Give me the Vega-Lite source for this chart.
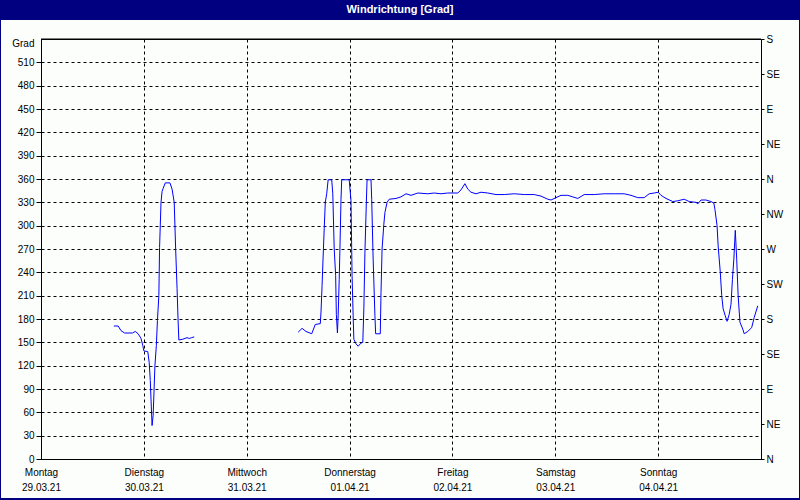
{
  "$schema": "https://vega.github.io/schema/vega-lite/v6.json",
  "padding": 0,
  "background": "#fcfefc",
  "spacing": 0,
  "config": {
    "view": {"stroke": null},
    "axis": {
      "labelFont": "Liberation Sans, sans-serif",
      "labelFontSize": 10,
      "labelColor": "#000000",
      "domainColor": "#000000",
      "tickColor": "#000000",
      "gridColor": "#000000",
      "gridDash": [3, 3],
      "gridOpacity": 1,
      "titleFont": "Liberation Sans, sans-serif",
      "titleColor": "#000000"
    }
  },
  "vconcat": [
    {
      "width": 800,
      "height": 20,
      "data": {"values": [{"title": "Windrichtung [Grad]"}]},
      "mark": {
        "type": "text",
        "color": "#ffffff",
        "font": "Liberation Sans, sans-serif",
        "fontSize": 11,
        "fontWeight": "bold"
      },
      "encoding": {"text": {"field": "title", "type": "nominal"}},
      "view": {"fill": "#000080", "stroke": null}
    },
    {
      "spacing": 0,
      "hconcat": [
        {
          "width": 1,
          "height": 478,
          "data": {"values": [{}]},
          "mark": {"type": "rect", "color": "#000080"},
          "view": {"fill": "#000080", "stroke": null}
        },
        {
          "spacing": 12,
          "vconcat": [
            {
              "width": 758,
              "height": 1,
              "data": {"values": [{}]},
              "mark": {"type": "rect", "opacity": 0},
              "view": {"stroke": null}
            },
            {
              "width": 720,
              "height": 420,
              "view": {"stroke": "#000000", "strokeWidth": 1},
              "resolve": {"axis": {"y": "independent"}},
              "layer": [
                {
                  "data": {
                    "values": [
                      {"t": "2021-03-29T17:00:00Z", "grad": 171, "seg": 1},
                      {"t": "2021-03-29T18:00:00Z", "grad": 171, "seg": 1},
                      {"t": "2021-03-29T18:40:00Z", "grad": 165, "seg": 1},
                      {"t": "2021-03-29T19:30:00Z", "grad": 162, "seg": 1},
                      {"t": "2021-03-29T21:20:00Z", "grad": 162, "seg": 1},
                      {"t": "2021-03-29T22:00:00Z", "grad": 164, "seg": 1},
                      {"t": "2021-03-29T22:40:00Z", "grad": 161, "seg": 1},
                      {"t": "2021-03-29T23:20:00Z", "grad": 155, "seg": 1},
                      {"t": "2021-03-29T23:45:00Z", "grad": 146, "seg": 1},
                      {"t": "2021-03-30T00:00:00Z", "grad": 139, "seg": 1},
                      {"t": "2021-03-30T00:55:00Z", "grad": 138, "seg": 1},
                      {"t": "2021-03-30T01:15:00Z", "grad": 124, "seg": 1},
                      {"t": "2021-03-30T01:30:00Z", "grad": 101, "seg": 1},
                      {"t": "2021-03-30T01:40:00Z", "grad": 77, "seg": 1},
                      {"t": "2021-03-30T01:55:00Z", "grad": 43, "seg": 1},
                      {"t": "2021-03-30T02:10:00Z", "grad": 56, "seg": 1},
                      {"t": "2021-03-30T02:35:00Z", "grad": 120, "seg": 1},
                      {"t": "2021-03-30T02:55:00Z", "grad": 146, "seg": 1},
                      {"t": "2021-03-30T03:10:00Z", "grad": 178, "seg": 1},
                      {"t": "2021-03-30T03:30:00Z", "grad": 210, "seg": 1},
                      {"t": "2021-03-30T03:40:00Z", "grad": 272, "seg": 1},
                      {"t": "2021-03-30T04:00:00Z", "grad": 330, "seg": 1},
                      {"t": "2021-03-30T04:15:00Z", "grad": 344, "seg": 1},
                      {"t": "2021-03-30T04:30:00Z", "grad": 348, "seg": 1},
                      {"t": "2021-03-30T05:00:00Z", "grad": 355, "seg": 1},
                      {"t": "2021-03-30T06:05:00Z", "grad": 355, "seg": 1},
                      {"t": "2021-03-30T06:35:00Z", "grad": 347, "seg": 1},
                      {"t": "2021-03-30T07:05:00Z", "grad": 330, "seg": 1},
                      {"t": "2021-03-30T07:25:00Z", "grad": 270, "seg": 1},
                      {"t": "2021-03-30T07:45:00Z", "grad": 219, "seg": 1},
                      {"t": "2021-03-30T08:00:00Z", "grad": 176, "seg": 1},
                      {"t": "2021-03-30T08:10:00Z", "grad": 153, "seg": 1},
                      {"t": "2021-03-30T09:05:00Z", "grad": 154, "seg": 1},
                      {"t": "2021-03-30T10:05:00Z", "grad": 156, "seg": 1},
                      {"t": "2021-03-30T10:35:00Z", "grad": 155, "seg": 1},
                      {"t": "2021-03-30T11:10:00Z", "grad": 156, "seg": 1},
                      {"t": "2021-03-30T11:45:00Z", "grad": 157, "seg": 1},
                      {"t": "2021-03-31T12:00:00Z", "grad": 163, "seg": 2},
                      {"t": "2021-03-31T12:55:00Z", "grad": 168, "seg": 2},
                      {"t": "2021-03-31T13:50:00Z", "grad": 164, "seg": 2},
                      {"t": "2021-03-31T15:10:00Z", "grad": 161, "seg": 2},
                      {"t": "2021-03-31T16:00:00Z", "grad": 173, "seg": 2},
                      {"t": "2021-03-31T17:10:00Z", "grad": 174, "seg": 2},
                      {"t": "2021-03-31T17:20:00Z", "grad": 189, "seg": 2},
                      {"t": "2021-03-31T17:35:00Z", "grad": 223, "seg": 2},
                      {"t": "2021-03-31T17:50:00Z", "grad": 261, "seg": 2},
                      {"t": "2021-03-31T18:05:00Z", "grad": 296, "seg": 2},
                      {"t": "2021-03-31T18:20:00Z", "grad": 330, "seg": 2},
                      {"t": "2021-03-31T18:40:00Z", "grad": 341, "seg": 2},
                      {"t": "2021-03-31T19:00:00Z", "grad": 359, "seg": 2},
                      {"t": "2021-03-31T19:50:00Z", "grad": 359, "seg": 2},
                      {"t": "2021-03-31T20:05:00Z", "grad": 341, "seg": 2},
                      {"t": "2021-03-31T20:25:00Z", "grad": 270, "seg": 2},
                      {"t": "2021-03-31T20:45:00Z", "grad": 236, "seg": 2},
                      {"t": "2021-03-31T20:55:00Z", "grad": 186, "seg": 2},
                      {"t": "2021-03-31T21:10:00Z", "grad": 162, "seg": 2},
                      {"t": "2021-03-31T21:20:00Z", "grad": 184, "seg": 2},
                      {"t": "2021-03-31T21:35:00Z", "grad": 231, "seg": 2},
                      {"t": "2021-03-31T21:45:00Z", "grad": 270, "seg": 2},
                      {"t": "2021-03-31T22:00:00Z", "grad": 334, "seg": 2},
                      {"t": "2021-03-31T22:10:00Z", "grad": 359, "seg": 2},
                      {"t": "2021-03-31T23:55:00Z", "grad": 359, "seg": 2},
                      {"t": "2021-04-01T00:20:00Z", "grad": 332, "seg": 2},
                      {"t": "2021-04-01T00:35:00Z", "grad": 236, "seg": 2},
                      {"t": "2021-04-01T00:50:00Z", "grad": 184, "seg": 2},
                      {"t": "2021-04-01T01:00:00Z", "grad": 154, "seg": 2},
                      {"t": "2021-04-01T01:30:00Z", "grad": 148, "seg": 2},
                      {"t": "2021-04-01T02:00:00Z", "grad": 145, "seg": 2},
                      {"t": "2021-04-01T02:40:00Z", "grad": 149, "seg": 2},
                      {"t": "2021-04-01T03:05:00Z", "grad": 150, "seg": 2},
                      {"t": "2021-04-01T03:20:00Z", "grad": 193, "seg": 2},
                      {"t": "2021-04-01T03:35:00Z", "grad": 266, "seg": 2},
                      {"t": "2021-04-01T03:55:00Z", "grad": 330, "seg": 2},
                      {"t": "2021-04-01T04:05:00Z", "grad": 359, "seg": 2},
                      {"t": "2021-04-01T05:00:00Z", "grad": 359, "seg": 2},
                      {"t": "2021-04-01T05:10:00Z", "grad": 334, "seg": 2},
                      {"t": "2021-04-01T05:30:00Z", "grad": 257, "seg": 2},
                      {"t": "2021-04-01T05:55:00Z", "grad": 184, "seg": 2},
                      {"t": "2021-04-01T06:05:00Z", "grad": 161, "seg": 2},
                      {"t": "2021-04-01T07:10:00Z", "grad": 161, "seg": 2},
                      {"t": "2021-04-01T07:20:00Z", "grad": 214, "seg": 2},
                      {"t": "2021-04-01T07:35:00Z", "grad": 270, "seg": 2},
                      {"t": "2021-04-01T08:00:00Z", "grad": 302, "seg": 2},
                      {"t": "2021-04-01T08:15:00Z", "grad": 317, "seg": 2},
                      {"t": "2021-04-01T08:45:00Z", "grad": 330, "seg": 2},
                      {"t": "2021-04-01T09:15:00Z", "grad": 334, "seg": 2},
                      {"t": "2021-04-01T10:50:00Z", "grad": 335, "seg": 2},
                      {"t": "2021-04-01T12:00:00Z", "grad": 337, "seg": 2},
                      {"t": "2021-04-01T13:10:00Z", "grad": 341, "seg": 2},
                      {"t": "2021-04-01T14:20:00Z", "grad": 339, "seg": 2},
                      {"t": "2021-04-01T15:55:00Z", "grad": 342, "seg": 2},
                      {"t": "2021-04-01T18:15:00Z", "grad": 341, "seg": 2},
                      {"t": "2021-04-01T19:45:00Z", "grad": 342, "seg": 2},
                      {"t": "2021-04-01T21:20:00Z", "grad": 341, "seg": 2},
                      {"t": "2021-04-01T22:55:00Z", "grad": 342, "seg": 2},
                      {"t": "2021-04-02T01:15:00Z", "grad": 342, "seg": 2},
                      {"t": "2021-04-02T02:00:00Z", "grad": 346, "seg": 2},
                      {"t": "2021-04-02T02:55:00Z", "grad": 354, "seg": 2},
                      {"t": "2021-04-02T03:35:00Z", "grad": 347, "seg": 2},
                      {"t": "2021-04-02T04:20:00Z", "grad": 343, "seg": 2},
                      {"t": "2021-04-02T05:30:00Z", "grad": 341, "seg": 2},
                      {"t": "2021-04-02T06:40:00Z", "grad": 343, "seg": 2},
                      {"t": "2021-04-02T08:15:00Z", "grad": 342, "seg": 2},
                      {"t": "2021-04-02T10:10:00Z", "grad": 340, "seg": 2},
                      {"t": "2021-04-02T12:05:00Z", "grad": 340, "seg": 2},
                      {"t": "2021-04-02T14:25:00Z", "grad": 341, "seg": 2},
                      {"t": "2021-04-02T16:45:00Z", "grad": 340, "seg": 2},
                      {"t": "2021-04-02T19:05:00Z", "grad": 340, "seg": 2},
                      {"t": "2021-04-02T20:40:00Z", "grad": 338, "seg": 2},
                      {"t": "2021-04-02T22:15:00Z", "grad": 334, "seg": 2},
                      {"t": "2021-04-02T23:00:00Z", "grad": 333, "seg": 2},
                      {"t": "2021-04-03T00:10:00Z", "grad": 336, "seg": 2},
                      {"t": "2021-04-03T01:20:00Z", "grad": 339, "seg": 2},
                      {"t": "2021-04-03T02:55:00Z", "grad": 339, "seg": 2},
                      {"t": "2021-04-03T04:05:00Z", "grad": 337, "seg": 2},
                      {"t": "2021-04-03T05:15:00Z", "grad": 335, "seg": 2},
                      {"t": "2021-04-03T06:45:00Z", "grad": 340, "seg": 2},
                      {"t": "2021-04-03T09:05:00Z", "grad": 340, "seg": 2},
                      {"t": "2021-04-03T11:25:00Z", "grad": 341, "seg": 2},
                      {"t": "2021-04-03T13:45:00Z", "grad": 341, "seg": 2},
                      {"t": "2021-04-03T16:05:00Z", "grad": 341, "seg": 2},
                      {"t": "2021-04-03T17:40:00Z", "grad": 339, "seg": 2},
                      {"t": "2021-04-03T19:15:00Z", "grad": 336, "seg": 2},
                      {"t": "2021-04-03T20:45:00Z", "grad": 336, "seg": 2},
                      {"t": "2021-04-03T21:55:00Z", "grad": 341, "seg": 2},
                      {"t": "2021-04-03T23:05:00Z", "grad": 342, "seg": 2},
                      {"t": "2021-04-04T00:00:00Z", "grad": 343, "seg": 2},
                      {"t": "2021-04-04T00:40:00Z", "grad": 339, "seg": 2},
                      {"t": "2021-04-04T01:50:00Z", "grad": 335, "seg": 2},
                      {"t": "2021-04-04T03:25:00Z", "grad": 331, "seg": 2},
                      {"t": "2021-04-04T04:35:00Z", "grad": 332, "seg": 2},
                      {"t": "2021-04-04T06:05:00Z", "grad": 334, "seg": 2},
                      {"t": "2021-04-04T07:15:00Z", "grad": 331, "seg": 2},
                      {"t": "2021-04-04T08:50:00Z", "grad": 330, "seg": 2},
                      {"t": "2021-04-04T09:15:00Z", "grad": 328, "seg": 2},
                      {"t": "2021-04-04T10:00:00Z", "grad": 333, "seg": 2},
                      {"t": "2021-04-04T11:10:00Z", "grad": 333, "seg": 2},
                      {"t": "2021-04-04T12:20:00Z", "grad": 331, "seg": 2},
                      {"t": "2021-04-04T13:00:00Z", "grad": 329, "seg": 2},
                      {"t": "2021-04-04T13:15:00Z", "grad": 321, "seg": 2},
                      {"t": "2021-04-04T13:45:00Z", "grad": 300, "seg": 2},
                      {"t": "2021-04-04T14:00:00Z", "grad": 274, "seg": 2},
                      {"t": "2021-04-04T14:30:00Z", "grad": 240, "seg": 2},
                      {"t": "2021-04-04T14:50:00Z", "grad": 210, "seg": 2},
                      {"t": "2021-04-04T15:10:00Z", "grad": 193, "seg": 2},
                      {"t": "2021-04-04T15:40:00Z", "grad": 184, "seg": 2},
                      {"t": "2021-04-04T16:05:00Z", "grad": 177, "seg": 2},
                      {"t": "2021-04-04T16:35:00Z", "grad": 186, "seg": 2},
                      {"t": "2021-04-04T17:00:00Z", "grad": 199, "seg": 2},
                      {"t": "2021-04-04T17:20:00Z", "grad": 231, "seg": 2},
                      {"t": "2021-04-04T17:40:00Z", "grad": 257, "seg": 2},
                      {"t": "2021-04-04T18:00:00Z", "grad": 294, "seg": 2},
                      {"t": "2021-04-04T18:20:00Z", "grad": 257, "seg": 2},
                      {"t": "2021-04-04T18:40:00Z", "grad": 210, "seg": 2},
                      {"t": "2021-04-04T19:05:00Z", "grad": 176, "seg": 2},
                      {"t": "2021-04-04T19:45:00Z", "grad": 167, "seg": 2},
                      {"t": "2021-04-04T20:05:00Z", "grad": 161, "seg": 2},
                      {"t": "2021-04-04T20:55:00Z", "grad": 164, "seg": 2},
                      {"t": "2021-04-04T21:50:00Z", "grad": 169, "seg": 2},
                      {"t": "2021-04-04T22:25:00Z", "grad": 182, "seg": 2},
                      {"t": "2021-04-04T23:15:00Z", "grad": 197, "seg": 2}
                    ]
                  },
                  "mark": {"type": "line", "color": "#0000ff", "strokeWidth": 1},
                  "encoding": {
                    "x": {
                      "field": "t",
                      "type": "temporal",
                      "scale": {
                        "type": "utc",
                        "domain": [
                          {"year": 2021, "month": 3, "date": 29, "utc": true},
                          {"year": 2021, "month": 4, "date": 5, "utc": true}
                        ]
                      },
                      "axis": {
                        "orient": "bottom",
                        "title": null,
                        "values": [
                          {"year": 2021, "month": 3, "date": 29, "utc": true},
                          {"year": 2021, "month": 3, "date": 30, "utc": true},
                          {"year": 2021, "month": 3, "date": 31, "utc": true},
                          {"year": 2021, "month": 4, "date": 1, "utc": true},
                          {"year": 2021, "month": 4, "date": 2, "utc": true},
                          {"year": 2021, "month": 4, "date": 3, "utc": true},
                          {"year": 2021, "month": 4, "date": 4, "utc": true}
                        ],
                        "labelExpr": "[['Sonntag','Montag','Dienstag','Mittwoch','Donnerstag','Freitag','Samstag'][utcday(datum.value)], utcFormat(datum.value, '%d.%m.%y')]",
                        "grid": true,
                        "tickSize": 0,
                        "labelPadding": 8,
                        "labelLineHeight": 15,
                        "labelBaseline": "top",
                        "labelAlign": "center",
                        "labelDx": -3,
                        "labelFlush": false,
                        "labelOverlap": false,
                        "labelBound": false
                      }
                    },
                    "y": {
                      "field": "grad",
                      "type": "quantitative",
                      "scale": {"domain": [0, 540], "nice": false, "zero": true},
                      "axis": {
                        "orient": "left",
                        "values": [0, 30, 60, 90, 120, 150, 180, 210, 240, 270, 300, 330, 360, 390, 420, 450, 480, 510],
                        "grid": true,
                        "tickSize": 5,
                        "labelPadding": 2,
                        "labelOverlap": false,
                        "labelFlush": false,
                        "title": "Grad",
                        "titleAngle": 0,
                        "titleAlign": "right",
                        "titleBaseline": "middle",
                        "titleX": -7,
                        "titleY": 4,
                        "titleFontSize": 10,
                        "titleFontWeight": "normal",
                        "minExtent": 39
                      }
                    },
                    "detail": {"field": "seg", "type": "nominal"}
                  }
                },
                {
                  "data": {"values": [{}]},
                  "mark": {"type": "rule", "color": "#000000", "strokeWidth": 1},
                  "encoding": {
                    "y": {
                      "datum": 540,
                      "type": "quantitative",
                      "axis": {
                        "orient": "right",
                        "values": [0, 45, 90, 135, 180, 225, 270, 315, 360, 405, 450, 495, 540],
                        "labelExpr": "['N','NE','E','SE','S','SW','W','NW'][(datum.value / 45) % 8]",
                        "grid": false,
                        "tickSize": 3,
                        "labelPadding": 2,
                        "labelOverlap": false,
                        "labelFlush": false,
                        "title": null
                      }
                    }
                  }
                }
              ]
            }
          ]
        },
        {
          "width": 2,
          "height": 478,
          "data": {"values": [{}]},
          "mark": {"type": "rect", "color": "#000080"},
          "view": {"fill": "#000080", "stroke": null}
        }
      ]
    },
    {
      "width": 800,
      "height": 2,
      "data": {"values": [{}]},
      "mark": {"type": "rect", "color": "#000080"},
      "view": {"fill": "#000080", "stroke": null}
    }
  ]
}
